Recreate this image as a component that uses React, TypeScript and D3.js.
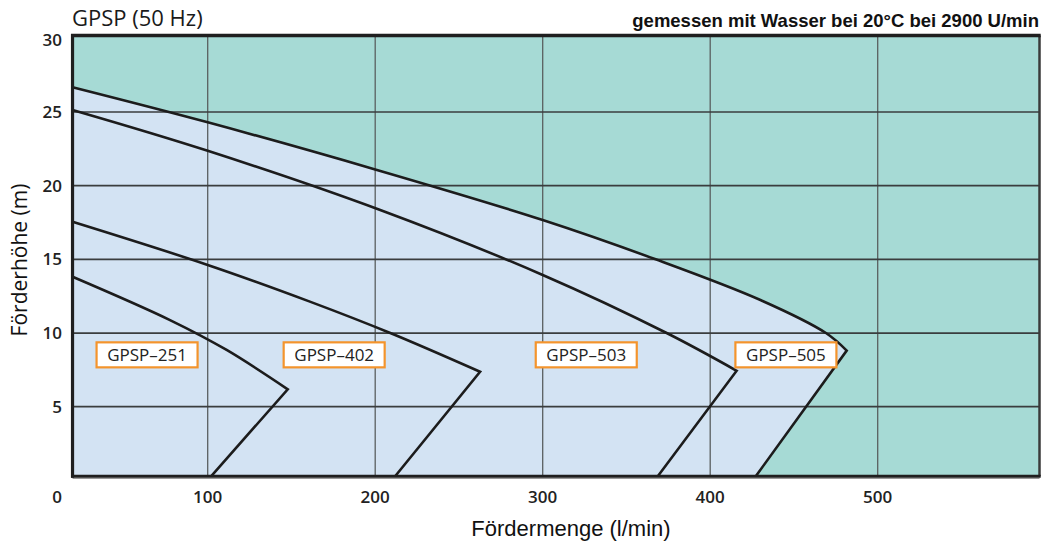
import React from "react";
import * as d3 from "d3";

const W = 1043;
const H = 544;

// x ticks (Fördermenge l/min) and y ticks (Förderhöhe m)
const xTicks = [100, 200, 300, 400, 500];
const yTicks = [5, 10, 15, 20, 25, 30];
const xGrid = [100, 200, 300, 400, 500];
const yGrid = [5, 10, 15, 20, 25];

// pump curves: upper (smooth) branch ending at the tip, then straight to bottom
const pumps = ["GPSP–251", "GPSP–402", "GPSP–503", "GPSP–505"];

const q251 = [19.3, 77.5, 111.3, 147.8];
const h251 = [13.82, 10.88, 8.85, 6.18];
const q402 = [19.3, 100, 161, 209, 262.6];
const h402 = [17.55, 14.62, 12.13, 10.0, 7.37];
const q503 = [19.3, 100, 203, 300, 374, 415.8];
const h503 = [25.14, 22.37, 18.35, 13.94, 10.0, 7.44];
const q505 = [19.3, 100, 200, 300, 367, 430, 469.1, 481.5];
const h505 = [26.68, 24.3, 21.1, 17.67, 15.02, 12.24, 10.0, 8.81];

// bottom end of each curve's lower branch
const bottomQ = [102, 211.9, 368.7, 427.2];
const bottomH = [0.28, 0.28, 0.28, 0.28];

// label anchors (centre of boxes)
const labelQ = [63.8, 175.5, 326, 445.2];
const labelH = [8.52, 8.52, 8.52, 8.52];

// visible plot window
const qMin = 19.3;
const qMax = 596.6;
const hMin = 0.28;
const hMax = 30.19;

const x = d3.scaleLinear().domain([0, 600]).range([40.2, 1045.2]);
const y = d3.scaleLinear().domain([0, 30]).range([480.4, 38.3]);

const upperQ = [q251, q402, q503, q505];
const upperH = [h251, h402, h503, h505];

const lineGen = d3
  .line<[number, number]>()
  .x((d) => x(d[0]))
  .y((d) => y(d[1]))
  .curve(d3.curveCatmullRom.alpha(0.5));

function curvePath(i: number) {
  const pts: [number, number][] = upperQ[i].map((q, j) => [q, upperH[i][j]]);
  const upper = lineGen(pts) || "";
  return `${upper}L${x(bottomQ[i])},${y(bottomH[i])}`;
}

function fillPath() {
  const i = 3;
  return `${curvePath(i)}L${x(qMin)},${y(hMin)}Z`;
}

export default function App() {
  const left = x(qMin);
  const right = x(qMax);
  const top = y(hMax);
  const bottom = y(hMin);
  const tickFont = "'Open Sans', sans-serif";
  return (
    <svg
      width={W}
      height={H}
      style={{ position: "absolute", left: 0, top: 0, display: "block", background: "#fff" }}
    >
      {/* background teal */}
      <rect x={left} y={top} width={right - left} height={bottom - top} fill="#a6dad5" />
      {/* light blue operating area */}
      <path d={fillPath()} fill="#d3e3f3" />

      {/* grid */}
      {xGrid.map((v) => (
        <line key={"gx" + v} x1={x(v)} x2={x(v)} y1={top} y2={bottom} stroke="#5a5f60" strokeWidth={1.3} />
      ))}
      {yGrid.map((v) => (
        <line key={"gy" + v} x1={left} x2={right} y1={y(v)} y2={y(v)} stroke="#3a3d3e" strokeWidth={1.7} />
      ))}

      {/* curves */}
      {pumps.map((p, i) => (
        <path key={"c" + p} d={curvePath(i)} fill="none" stroke="#1c1c1c" strokeWidth={2.6} strokeLinejoin="miter" />
      ))}

      {/* frame */}
      <line x1={left} x2={right} y1={bottom + 2.2} y2={bottom + 2.2} stroke="#9a9a9a" strokeWidth={1.2} />
      <line x1={right} x2={right} y1={top} y2={bottom} stroke="#3a3a3a" strokeWidth={2.5} />
      <line x1={left - 1.5} x2={right + 1.2} y1={top} y2={top} stroke="#1f1f1f" strokeWidth={3.6} />
      <line x1={left - 1.5} x2={right + 1.2} y1={bottom} y2={bottom} stroke="#1f1f1f" strokeWidth={3.2} />
      <line x1={left} x2={left} y1={top - 1.5} y2={bottom + 1.5} stroke="#1f1f1f" strokeWidth={3.2} />

      {/* labels */}
      {pumps.map((p, i) => (
        <g key={"l" + p} transform={`translate(${x(labelQ[i])},${y(labelH[i])})`}>
          <rect x={-50.5} y={-12.5} width={101} height={25} fill="#ffffff" stroke="#f4942c" strokeWidth={2.2} />
          <text
            x={0}
            y={0}
            dy="0.36em"
            textAnchor="middle"
            fontFamily={tickFont}
            fontSize={17}
            fill="#222"
          >
            {p}
          </text>
        </g>
      ))}

      {/* y ticks */}
      {yTicks.map((v) => (
        <text
          key={"ty" + v}
          x={62}
          y={y(v) + (v === 30 ? 2 : 0)}
          dy="0.36em"
          textAnchor="end"
          fontFamily={tickFont}
          fontWeight={600}
          fontSize={17}
          fill="#222"
        >
          {v}
        </text>
      ))}
      <text x={62} y={503} textAnchor="end" fontFamily={tickFont} fontWeight={600} fontSize={17} fill="#222">
        0
      </text>
      {/* x ticks */}
      {xTicks.map((v) => (
        <text
          key={"tx" + v}
          x={x(v)}
          y={503}
          textAnchor="middle"
          fontFamily={tickFont}
          fontWeight={600}
          fontSize={17}
          fill="#222"
        >
          {v}
        </text>
      ))}

      {/* titles */}
      <text x={72} y={26} fontFamily={tickFont} fontWeight={500} fontSize={22} fill="#1a1a1a">
        GPSP (50 Hz)
      </text>
      <text
        x={1039}
        y={27}
        textAnchor="end"
        fontFamily="'Liberation Sans', Arial, sans-serif"
        fontWeight="bold"
        fontSize={18.5}
        fill="#111"
      >
        gemessen mit Wasser bei 20°C bei 2900 U/min
      </text>
      <text
        x={571}
        y={536}
        textAnchor="middle"
        fontFamily="'Liberation Sans', Arial, sans-serif"
        fontSize={22}
        fill="#111"
      >
        Fördermenge (l/min)
      </text>
      <text
        transform="translate(27,260) rotate(-90)"
        textAnchor="middle"
        fontFamily={tickFont}
        fontSize={21}
        fill="#111"
      >
        Förderhöhe (m)
      </text>
    </svg>
  );
}
